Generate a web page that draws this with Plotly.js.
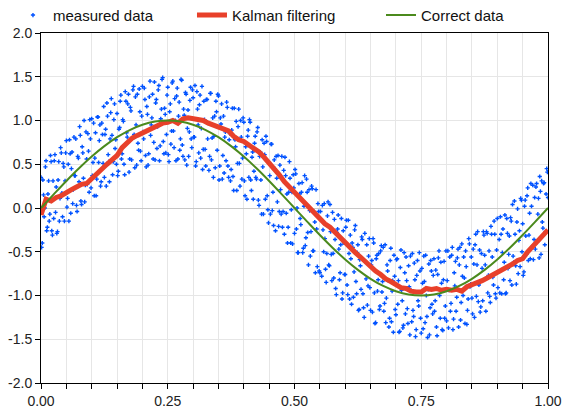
<!DOCTYPE html>
<html><head><meta charset="utf-8">
<script src="https://cdn.plot.ly/plotly-3.0.1.min.js"></script>
<style>html,body{margin:0;padding:0;background:#fff}#chart{width:569px;height:414px}</style>
</head><body><div id="chart"></div>
<script>
const measX = [
0,0.0025,0.005,0.0075,0.01,0.0125,0.015,0.0175,0.02,0.0225,
0.025,0.0275,0.03,0.0325,0.035,0.0375,0.04,0.0425,0.045,0.0475,
0.05,0.0525,0.055,0.0575,0.06,0.0625,0.065,0.0675,0.07,0.0725,
0.075,0.0775,0.08,0.0825,0.085,0.0875,0.09,0.0925,0.095,0.0975,
0.1,0.1025,0.105,0.1075,0.11,0.1125,0.115,0.1175,0.12,0.1225,
0.125,0.1275,0.13,0.1325,0.135,0.1375,0.14,0.1425,0.145,0.1475,
0.15,0.1525,0.155,0.1575,0.16,0.1625,0.165,0.1675,0.17,0.1725,
0.175,0.1775,0.18,0.1825,0.185,0.1875,0.19,0.1925,0.195,0.1975,
0.2,0.2025,0.205,0.2075,0.21,0.2125,0.215,0.2175,0.22,0.2225,
0.225,0.2275,0.23,0.2325,0.235,0.2375,0.24,0.2425,0.245,0.2475,
0.25,0.2525,0.255,0.2575,0.26,0.2625,0.265,0.2675,0.27,0.2725,
0.275,0.2775,0.28,0.2825,0.285,0.2875,0.29,0.2925,0.295,0.2975,
0.3,0.3025,0.305,0.3075,0.31,0.3125,0.315,0.3175,0.32,0.3225,
0.325,0.3275,0.33,0.3325,0.335,0.3375,0.34,0.3425,0.345,0.3475,
0.35,0.3525,0.355,0.3575,0.36,0.3625,0.365,0.3675,0.37,0.3725,
0.375,0.3775,0.38,0.3825,0.385,0.3875,0.39,0.3925,0.395,0.3975,
0.4,0.4025,0.405,0.4075,0.41,0.4125,0.415,0.4175,0.42,0.4225,
0.425,0.4275,0.43,0.4325,0.435,0.4375,0.44,0.4425,0.445,0.4475,
0.45,0.4525,0.455,0.4575,0.46,0.4625,0.465,0.4675,0.47,0.4725,
0.475,0.4775,0.48,0.4825,0.485,0.4875,0.49,0.4925,0.495,0.4975,
0.5,0.5025,0.505,0.5075,0.51,0.5125,0.515,0.5175,0.52,0.5225,
0.525,0.5275,0.53,0.5325,0.535,0.5375,0.54,0.5425,0.545,0.5475,
0.55,0.5525,0.555,0.5575,0.56,0.5625,0.565,0.5675,0.57,0.5725,
0.575,0.5775,0.58,0.5825,0.585,0.5875,0.59,0.5925,0.595,0.5975,
0.6,0.6025,0.605,0.6075,0.61,0.6125,0.615,0.6175,0.62,0.6225,
0.625,0.6275,0.63,0.6325,0.635,0.6375,0.64,0.6425,0.645,0.6475,
0.65,0.6525,0.655,0.6575,0.66,0.6625,0.665,0.6675,0.67,0.6725,
0.675,0.6775,0.68,0.6825,0.685,0.6875,0.69,0.6925,0.695,0.6975,
0.7,0.7025,0.705,0.7075,0.71,0.7125,0.715,0.7175,0.72,0.7225,
0.725,0.7275,0.73,0.7325,0.735,0.7375,0.74,0.7425,0.745,0.7475,
0.75,0.7525,0.755,0.7575,0.76,0.7625,0.765,0.7675,0.77,0.7725,
0.775,0.7775,0.78,0.7825,0.785,0.7875,0.79,0.7925,0.795,0.7975,
0.8,0.8025,0.805,0.8075,0.81,0.8125,0.815,0.8175,0.82,0.8225,
0.825,0.8275,0.83,0.8325,0.835,0.8375,0.84,0.8425,0.845,0.8475,
0.85,0.8525,0.855,0.8575,0.86,0.8625,0.865,0.8675,0.87,0.8725,
0.875,0.8775,0.88,0.8825,0.885,0.8875,0.89,0.8925,0.895,0.8975,
0.9,0.9025,0.905,0.9075,0.91,0.9125,0.915,0.9175,0.92,0.9225,
0.925,0.9275,0.93,0.9325,0.935,0.9375,0.94,0.9425,0.945,0.9475,
0.95,0.9525,0.955,0.9575,0.96,0.9625,0.965,0.9675,0.97,0.9725,
0.975,0.9775,0.98,0.9825,0.985,0.9875,0.99,0.9925,0.995,0.9975,
1.0];
const measY = [
0.35,-0.40,0.15,0.00,0.54,-0.22,0.31,-0.07,0.53,-0.31,
-0.12,0.61,0.24,-0.27,0.53,0.11,0.63,-0.10,0.47,0.31,
0.77,0.11,-0.15,0.62,0.45,0.05,0.81,0.37,0.03,0.59,
0.30,0.83,0.04,0.63,1.00,0.26,0.56,0.85,0.18,0.79,
1.02,0.52,0.14,0.86,0.33,1.04,0.77,0.25,0.97,0.51,
0.35,0.90,1.20,0.61,0.30,1.09,0.83,0.53,1.19,0.78,
1.08,0.42,0.92,1.29,0.62,0.99,0.38,1.22,0.81,1.30,
0.56,1.11,0.79,1.39,0.46,0.95,1.30,0.66,1.10,0.54,
1.39,0.79,1.24,0.47,1.07,0.62,1.45,0.95,1.30,0.75,
0.55,1.24,0.93,1.40,0.71,1.13,1.49,0.62,1.07,0.84,
1.38,0.53,1.19,0.88,1.45,0.69,1.00,1.28,0.56,1.21,
0.79,1.46,0.59,1.06,1.32,0.49,1.12,0.87,1.38,0.69,
1.26,0.81,0.48,1.33,0.95,1.18,0.57,1.39,0.67,1.01,
0.48,1.24,0.97,0.59,1.31,0.80,0.35,1.05,1.22,0.66,
1.28,0.48,0.96,0.33,1.05,0.81,0.54,1.15,0.35,0.85,
0.44,1.14,0.20,0.78,0.99,0.51,1.13,0.25,0.81,0.57,
0.98,0.14,0.62,0.82,0.35,0.98,0.20,0.64,0.42,0.82,
0.33,0.92,0.03,0.64,-0.07,0.47,0.74,0.10,0.76,-0.02,
0.52,-0.07,0.73,0.18,0.55,-0.26,0.34,0.60,-0.04,0.21,
0.59,-0.04,-0.30,0.37,0.16,-0.22,0.53,-0.40,0.18,0.38,
-0.29,0.39,0.00,-0.51,0.16,-0.19,0.29,-0.46,0.37,-0.34,
0.18,-0.65,-0.03,-0.27,0.22,-0.49,-0.16,0.21,-0.67,-0.04,
-0.74,-0.13,0.03,-0.50,-0.35,-0.85,-0.09,-0.65,0.04,-0.53,
-0.05,-0.80,-0.36,-0.99,-0.24,-0.47,-0.74,-0.12,-0.97,-0.40,
-0.76,-0.14,-0.99,-0.52,-0.31,-1.10,-0.45,-0.73,-0.20,-0.98,
-0.42,-1.16,-0.66,-0.33,-0.98,-1.25,-0.61,-0.42,-0.89,-0.35,
-1.17,-0.60,-0.35,-0.97,-1.31,-0.54,-0.82,-1.16,-0.49,-0.96,
-0.45,-1.09,-1.31,-0.65,-0.83,-1.26,-0.46,-0.95,-1.42,-0.78,
-1.22,-0.58,-0.83,-1.41,-0.48,-1.06,-1.34,-0.74,-0.56,-1.15,
-0.66,-1.45,-0.94,-0.52,-1.24,-0.82,-1.39,-0.60,-1.12,-0.72,
-1.43,-0.86,-0.55,-1.31,-1.00,-1.48,-0.64,-1.14,-0.72,-1.21,
-0.58,-1.06,-1.36,-0.76,-0.49,-1.26,-0.86,-1.40,-0.61,-1.12,
-1.29,-0.49,-0.94,-1.18,-0.54,-1.39,-0.74,-0.61,-1.02,-0.47,
-0.65,-1.28,-0.41,-1.00,-0.80,-0.49,-1.33,-1.04,-0.41,-0.87,
-1.03,-0.47,-1.25,-0.30,-0.65,-1.07,-0.48,-1.13,-0.69,-0.27,
-0.54,-1.18,-0.29,-0.77,-1.01,-0.21,-0.56,-0.88,-0.30,-1.03,
-0.12,-0.72,-0.97,-0.30,-0.51,-0.82,-0.08,-0.97,-0.29,-0.53,
-0.83,-0.15,0.04,-0.62,-0.30,-0.87,-0.01,-0.37,-0.67,0.09,
-0.18,-0.73,0.09,-0.53,0.23,-0.31,-0.58,0.02,0.26,-0.36,
-0.47,0.28,-0.07,-0.57,0.19,0.31,-0.23,0.29,-0.27,0.45,
0.12];

const measX2 = [
0.0012,0.0037,0.0062,0.0087,0.0112,0.0137,0.0162,0.0187,0.0212,0.0237,
0.0262,0.0287,0.0312,0.0337,0.0362,0.0387,0.0412,0.0437,0.0462,0.0487,
0.0512,0.0537,0.0562,0.0587,0.0612,0.0637,0.0662,0.0687,0.0712,0.0737,
0.0762,0.0787,0.0812,0.0837,0.0862,0.0887,0.0912,0.0937,0.0962,0.0987,
0.1012,0.1037,0.1062,0.1087,0.1112,0.1137,0.1162,0.1187,0.1212,0.1237,
0.1262,0.1287,0.1312,0.1337,0.1362,0.1387,0.1412,0.1437,0.1462,0.1487,
0.1512,0.1537,0.1562,0.1587,0.1612,0.1637,0.1662,0.1687,0.1712,0.1737,
0.1762,0.1787,0.1812,0.1837,0.1862,0.1887,0.1912,0.1937,0.1962,0.1987,
0.2012,0.2037,0.2062,0.2087,0.2112,0.2137,0.2162,0.2187,0.2212,0.2237,
0.2262,0.2287,0.2312,0.2337,0.2362,0.2387,0.2412,0.2437,0.2462,0.2487,
0.2512,0.2537,0.2562,0.2587,0.2612,0.2637,0.2662,0.2687,0.2712,0.2737,
0.2762,0.2787,0.2812,0.2837,0.2862,0.2887,0.2912,0.2937,0.2962,0.2987,
0.3012,0.3037,0.3062,0.3087,0.3112,0.3137,0.3162,0.3187,0.3212,0.3237,
0.3262,0.3287,0.3312,0.3337,0.3362,0.3387,0.3412,0.3437,0.3462,0.3487,
0.3512,0.3537,0.3562,0.3587,0.3612,0.3637,0.3662,0.3687,0.3712,0.3737,
0.3762,0.3787,0.3812,0.3837,0.3862,0.3887,0.3912,0.3937,0.3962,0.3987,
0.4012,0.4037,0.4062,0.4087,0.4112,0.4137,0.4162,0.4187,0.4212,0.4237,
0.4262,0.4287,0.4312,0.4337,0.4362,0.4387,0.4412,0.4437,0.4462,0.4487,
0.4512,0.4537,0.4562,0.4587,0.4612,0.4637,0.4662,0.4687,0.4712,0.4737,
0.4762,0.4787,0.4812,0.4837,0.4862,0.4887,0.4912,0.4937,0.4962,0.4987,
0.5012,0.5037,0.5062,0.5087,0.5112,0.5137,0.5162,0.5187,0.5212,0.5237,
0.5262,0.5287,0.5312,0.5337,0.5362,0.5387,0.5412,0.5437,0.5462,0.5487,
0.5512,0.5537,0.5562,0.5587,0.5612,0.5637,0.5662,0.5687,0.5712,0.5737,
0.5762,0.5787,0.5812,0.5837,0.5862,0.5887,0.5912,0.5937,0.5962,0.5987,
0.6012,0.6037,0.6062,0.6087,0.6112,0.6137,0.6162,0.6187,0.6212,0.6237,
0.6262,0.6287,0.6312,0.6337,0.6362,0.6387,0.6412,0.6437,0.6462,0.6487,
0.6512,0.6537,0.6562,0.6587,0.6612,0.6637,0.6662,0.6687,0.6712,0.6737,
0.6762,0.6787,0.6812,0.6837,0.6862,0.6887,0.6912,0.6937,0.6962,0.6987,
0.7012,0.7037,0.7062,0.7087,0.7112,0.7137,0.7162,0.7187,0.7212,0.7237,
0.7262,0.7287,0.7312,0.7337,0.7362,0.7387,0.7412,0.7437,0.7462,0.7487,
0.7512,0.7537,0.7562,0.7587,0.7612,0.7637,0.7662,0.7687,0.7712,0.7737,
0.7762,0.7787,0.7812,0.7837,0.7862,0.7887,0.7912,0.7937,0.7962,0.7987,
0.8012,0.8037,0.8062,0.8087,0.8112,0.8137,0.8162,0.8187,0.8212,0.8237,
0.8262,0.8287,0.8312,0.8337,0.8362,0.8387,0.8412,0.8437,0.8462,0.8487,
0.8512,0.8537,0.8562,0.8587,0.8612,0.8637,0.8662,0.8687,0.8712,0.8737,
0.8762,0.8787,0.8812,0.8837,0.8862,0.8887,0.8912,0.8937,0.8962,0.8987,
0.9012,0.9037,0.9062,0.9087,0.9112,0.9137,0.9162,0.9187,0.9212,0.9237,
0.9262,0.9287,0.9312,0.9337,0.9362,0.9387,0.9412,0.9437,0.9462,0.9487,
0.9512,0.9537,0.9562,0.9587,0.9612,0.9637,0.9662,0.9687,0.9712,0.9737,
0.9762,0.9787,0.9812,0.9837,0.9862,0.9887,0.9912,0.9937,0.9962,0.9987];
const measY2 = [
-0.45,0.32,-0.10,0.47,-0.26,0.16,-0.15,0.60,-0.26,0.31,
0.54,-0.05,-0.29,0.32,-0.15,0.69,0.17,0.51,-0.15,0.63,
0.01,0.50,0.78,-0.06,0.64,0.21,0.37,0.79,-0.04,0.57,
0.93,0.08,0.70,0.34,0.07,0.87,0.27,0.65,1.01,0.23,
0.37,0.97,0.57,0.14,1.04,0.52,0.95,0.30,0.84,1.16,
0.84,0.25,1.05,0.53,0.79,1.25,0.38,1.01,0.68,0.50,
0.37,0.90,1.22,0.56,1.01,0.50,1.33,0.86,1.19,0.41,
1.15,0.55,1.35,0.84,1.27,0.49,0.74,1.36,0.65,1.05,
0.87,1.37,0.60,1.16,0.49,1.27,0.83,1.03,0.56,1.44,
1.20,0.68,1.35,0.54,1.02,1.47,0.76,1.14,0.63,1.29,
0.61,1.10,0.73,1.43,0.88,1.25,0.54,1.37,1.05,0.66,
1.47,0.72,1.13,0.55,1.30,0.91,0.59,1.23,0.79,1.35,
0.81,1.40,0.53,1.13,0.63,1.29,0.91,0.44,1.22,0.67,
1.24,0.79,0.43,1.31,0.55,1.03,0.82,0.46,1.10,1.30,
0.32,1.03,1.19,0.60,0.40,0.87,1.21,0.48,0.78,0.31,
0.89,0.36,1.14,0.70,0.20,0.93,0.51,1.00,0.33,1.03,
0.31,0.70,0.10,0.89,1.01,0.32,0.58,0.10,0.74,0.35,
0.87,0.09,0.59,0.32,0.78,-0.07,0.61,0.82,0.14,-0.17,
0.37,0.73,-0.03,-0.20,0.45,0.59,0.07,-0.21,0.49,-0.07,
-0.22,0.43,0.58,-0.06,-0.40,0.18,0.34,-0.02,-0.41,0.23,
0.44,-0.24,-0.51,0.28,-0.12,0.18,-0.51,0.02,-0.43,0.33,
-0.28,0.21,-0.55,0.25,-0.49,-0.04,-0.74,-0.24,0.05,-0.72,
-0.04,-0.78,-0.25,0.05,-0.70,-0.52,0.07,-0.66,-0.27,-0.83,
-0.52,-0.13,-0.92,-0.28,-0.08,-0.82,-0.42,-1.04,-0.26,-0.76,
-0.22,-0.88,-0.14,-1.04,-0.58,-0.40,-1.02,-0.25,-0.84,-0.51,
-1.17,-0.59,-0.93,-0.36,-1.14,-0.29,-0.81,-1.11,-0.55,-0.91,
-0.65,-1.19,-0.40,-1.32,-0.58,-0.95,-0.52,-1.12,-0.43,-0.84,
-1.18,-0.42,-1.03,-0.72,-1.36,-0.60,-1.30,-0.83,-0.54,-1.16,
-0.59,-1.10,-1.42,-0.68,-0.94,-1.37,-0.51,-1.21,-0.83,-1.32,
-0.90,-0.55,-1.30,-1.17,-0.63,-1.47,-0.77,-1.06,-0.51,-1.26,
-0.69,-1.38,-0.84,-0.54,-1.24,-0.93,-1.45,-0.60,-1.10,-0.77,
-1.18,-0.71,-1.46,-0.57,-1.00,-0.62,-1.39,-0.82,-1.26,-0.49,
-0.83,-1.37,-0.56,-1.09,-0.45,-1.27,-0.89,-1.18,-0.57,-1.36,
-0.45,-1.08,-0.78,-0.56,-1.32,-0.67,-1.17,-0.35,-0.90,-0.56,
-1.21,-0.64,-0.42,-1.01,-0.27,-0.88,-1.19,-0.52,-1.06,-0.31,
-0.65,-0.27,-0.97,-0.49,-1.08,-0.30,-0.79,-0.15,-0.98,-0.48,
-0.91,-0.36,-0.10,-0.98,-0.24,-0.62,-0.98,-0.12,-0.69,-0.32,
-0.11,-0.88,-0.55,0.08,-0.66,-0.16,-0.75,-0.26,0.11,-0.50,
-0.77,0.02,-0.32,0.14,-0.60,-0.06,0.28,-0.44,-0.59,0.12,
0.24,-0.39,0.11,0.36,-0.53,-0.16,0.28,-0.42,0.16,0.41];

const kalmanX = [0,0.01,0.02,0.03,0.04,0.05,0.06,0.07,0.08,0.09,0.1,0.11,0.12,0.13,0.14,0.15,0.16,0.17,0.18,0.19,0.2,0.21,0.22,0.23,0.24,0.25,0.26,0.27,0.28,0.29,0.3,0.31,0.32,0.33,0.34,0.35,0.36,0.37,0.38,0.39,0.4,0.41,0.42,0.43,0.44,0.45,0.46,0.47,0.48,0.49,0.5,0.51,0.52,0.53,0.54,0.55,0.56,0.57,0.58,0.59,0.6,0.61,0.62,0.63,0.64,0.65,0.66,0.67,0.68,0.69,0.7,0.71,0.72,0.73,0.74,0.75,0.76,0.77,0.78,0.79,0.8,0.81,0.82,0.83,0.84,0.85,0.86,0.87,0.88,0.89,0.9,0.91,0.92,0.93,0.94,0.95,0.96,0.97,0.98,0.99,1.0];
const kalmanY = [-0.08,0.10,0.08,0.12,0.14,0.18,0.21,0.24,0.27,0.28,0.34,0.40,0.44,0.50,0.55,0.60,0.69,0.75,0.80,0.83,0.86,0.88,0.92,0.95,0.97,0.98,1.00,0.97,1.02,1.03,1.02,1.01,1.00,0.97,0.95,0.92,0.91,0.88,0.82,0.78,0.76,0.72,0.69,0.64,0.58,0.52,0.44,0.38,0.30,0.24,0.16,0.10,0.05,-0.02,-0.07,-0.12,-0.18,-0.22,-0.28,-0.33,-0.40,-0.47,-0.51,-0.56,-0.62,-0.68,-0.72,-0.76,-0.81,-0.84,-0.88,-0.91,-0.92,-0.95,-0.96,-0.96,-0.92,-0.93,-0.92,-0.94,-0.93,-0.94,-0.93,-0.95,-0.90,-0.88,-0.86,-0.83,-0.80,-0.77,-0.73,-0.70,-0.67,-0.64,-0.60,-0.58,-0.50,-0.44,-0.37,-0.30,-0.25];

const correctX = [0,0.025,0.05,0.075,0.1,0.125,0.15,0.175,0.2,0.225,0.25,0.275,0.3,0.325,0.35,0.375,0.4,0.425,0.45,0.475,0.5,0.525,0.55,0.575,0.6,0.625,0.65,0.675,0.7,0.725,0.75,0.775,0.8,0.825,0.85,0.875,0.9,0.925,0.95,0.975,1.0];
const correctY = [0,0.156,0.309,0.454,0.588,0.707,0.809,0.891,0.951,0.988,1.0,0.988,0.951,0.891,0.809,0.707,0.588,0.454,0.309,0.156,0,-0.156,-0.309,-0.454,-0.588,-0.707,-0.809,-0.891,-0.951,-0.988,-1.0,-0.988,-0.951,-0.891,-0.809,-0.707,-0.588,-0.454,-0.309,-0.156,0];

const seriesNames = ["measured data","Kalman filtering","Correct data"];
const xTickVals = [0,0.25,0.5,0.75,1.0];
const xTickText = ["0.00","0.25","0.50","0.75","1.00"];
const yTickVals = [-2,-1.5,-1,-0.5,0,0.5,1,1.5,2];
const yTickText = ["-2.0","-1.5","-1.0","-0.5","0.0","0.5","1.0","1.5","2.0"];

const FONT = "Liberation Sans, Arial, Helvetica, sans-serif";
const data = [
 {x: measX.concat(measX2), y: measY.concat(measY2), type:'scatter', mode:'markers', name: seriesNames[0], legend:'legend',
  marker:{symbol:'cross', size:3.5, color:'#0052ff', line:{width:0}}},
 {x: kalmanX, y: kalmanY, type:'scatter', mode:'lines', name: seriesNames[1], legend:'legend2',
  line:{color:'#e8402a', width:5}},
 {x: correctX, y: correctY, type:'scatter', mode:'lines', name: seriesNames[2], legend:'legend3',
  line:{color:'#4b8a1d', width:2, shape:'spline'}}
];
const legBase = {orientation:'h', xref:'container', yref:'container', yanchor:'middle', xanchor:'left', y:0.963,
  bgcolor:'rgba(0,0,0,0)', font:{family:FONT, size:15, color:'#111'}};
const layout = {
 width:569, height:414,
 margin:{l:41, r:21, t:33, b:31},
 paper_bgcolor:'#fff', plot_bgcolor:'#fff',
 font:{family:FONT, size:14, color:'#222'},
 showlegend:true,
 legend: Object.assign({}, legBase, {x:0.0228}),
 legend2: Object.assign({}, legBase, {x:0.3374}),
 legend3: Object.assign({}, legBase, {x:0.6696}),
 xaxis:{range:[0,1], tickvals:xTickVals, ticktext:xTickText, ticks:'outside', ticklen:5, tickcolor:'#000',
  showline:true, linecolor:'#000', linewidth:1, mirror:true, showgrid:true, gridcolor:'#e6e6e6', zeroline:false,
  minor:{dtick:0.05, ticks:'outside', ticklen:5, tickcolor:'#000', showgrid:true, gridcolor:'#e6e6e6'},
  tickfont:{family:FONT, size:14, color:'#222'}},
 yaxis:{range:[-2,2], tickvals:yTickVals, ticktext:yTickText, ticks:'outside', ticklen:5, tickcolor:'#000',
  showline:true, linecolor:'#000', linewidth:1, mirror:true, showgrid:true, gridcolor:'#e6e6e6',
  zeroline:true, zerolinecolor:'#c8c8c8', zerolinewidth:1,
  tickfont:{family:FONT, size:14, color:'#222'}}
};
Plotly.newPlot('chart', data, layout, {displayModeBar:false, staticPlot:true});
</script></body></html>
